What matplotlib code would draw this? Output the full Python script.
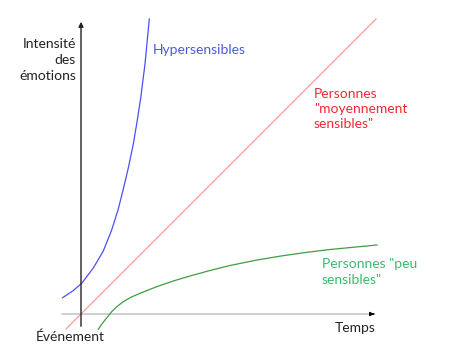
import matplotlib.pyplot as plt

# values (arbitrary units, origin = the event)
hyper_x = [-18.3, -7.7, 0.7, 12.3, 22.3, 30.7, 37.3, 42.3, 47.3, 52.3, 56, 59.7, 64, 68.3]
hyper_y = [16.3, 23.5, 30.7, 46, 63, 84, 105, 125, 146, 170, 192, 216, 250, 295]

moyen_x = [-15, 295]
moyen_y = [-15, 295]

peu_x = [17.3, 20.5, 24, 30.7, 36, 42.3, 50, 59, 75.7, 92.3, 109, 129, 149, 175, 200, 225, 250, 275, 296]
peu_y = [-15.3, -10.5, -6, 2.3, 7.5, 12.3, 16.8, 20.7, 27.3, 33, 38, 43.5, 48.5, 53.8, 58, 61.6, 64.6, 67, 69]

plt.rcParams['font.family'] = ['Lato', 'DejaVu Sans']

fig = plt.figure(figsize=(4.56, 3.5), dpi=100)
ax = fig.add_axes([0, 0, 1, 1])
ax.set_xlim(-81, 375)
ax.set_ylim(-36, 314)
ax.axis('off')

# axes drawn by hand
ax.plot([-19, 292], [0, 0], color="#c8c8c8", lw=1.2)
ax.annotate("", xy=(296, 0), xytext=(290, 0),
            arrowprops=dict(arrowstyle="-|>", color="black", lw=0.8, mutation_scale=6))
ax.annotate("", xy=(0, 295), xytext=(0, -15),
            arrowprops=dict(arrowstyle="-|>", color="#222222", lw=1.0, mutation_scale=7))

ax.plot(hyper_x, hyper_y, color="#4d4dff", lw=0.9)
ax.plot(moyen_x, moyen_y, color="#ff9a9a", lw=0.9)
ax.plot(peu_x, peu_y, color="#3e9e3e", lw=0.9)

fs = 10
ax.text(-5, 254, "Intensité\ndes\némotions", ha="right", va="center",
        fontsize=fs, color="#222222", multialignment="right", linespacing=1.35)
ax.text(72, 264, "Hypersensibles", ha="left", va="center", fontsize=fs, color="#4a5ad8")
ax.text(233, 205, "Personnes\n\"moyennement\nsensibles\"", ha="left", va="center",
        fontsize=fs, color="#ee2a35", linespacing=1.35)
ax.text(241, 42, "Personnes \"peu\nsensibles\"", ha="left", va="center",
        fontsize=fs, color="#3cb96a", linespacing=1.35)
ax.text(274, -14, "Temps", ha="center", va="center", fontsize=fs, color="#222222")
ax.text(-10.5, -23, "Événement", ha="center", va="center", fontsize=fs, color="#222222")

fig.savefig("out.png", dpi=100)
